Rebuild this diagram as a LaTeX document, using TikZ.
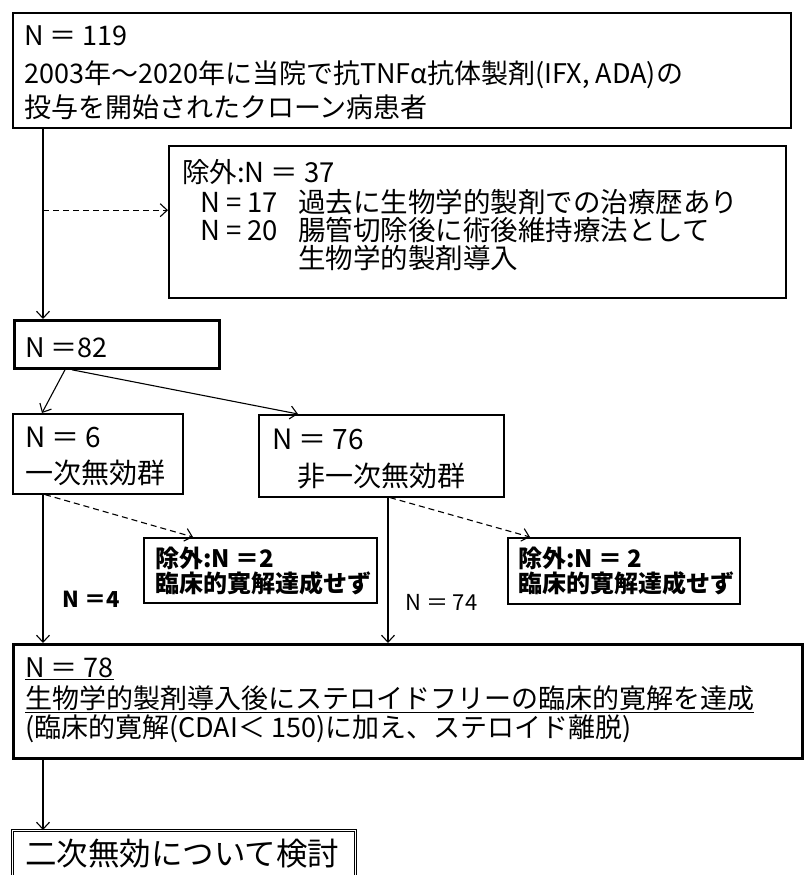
\documentclass[tikz,border=0pt]{standalone}
\usepackage{fontspec}
\setmainfont{Noto Sans CJK JP}
\usetikzlibrary{arrows.meta}
\begin{document}
\begin{tikzpicture}[x=1pt,y=-1pt,
  box/.style={draw, line width=1.6pt, anchor=north west, inner sep=0pt},
  heavybox/.style={box, line width=2.8pt},
  txt/.style={anchor=base west, inner sep=0pt, font=\fontsize{27}{31}\selectfont},
  mtxt/.style={anchor=base west, inner sep=0pt, font=\fontsize{27.5}{31}\selectfont},
  gtxt/.style={anchor=base west, inner sep=0pt, font=\fontsize{28}{32}\selectfont},
  btxt/.style={anchor=base west, inner sep=0pt, font=\fontsize{24}{28}\selectfont\bfseries},
  ltxt/.style={anchor=base west, inner sep=0pt, font=\fontsize{22}{26}\selectfont},
  arr/.style={line width=1.1pt, -{Straight Barb[length=7pt,width=13pt,line width=1.1pt]}},
  darr/.style={arr, dash pattern=on 6pt off 4pt}]
\useasboundingbox (0,0) rectangle (804,875);
\clip (0,0) rectangle (804,875);

% boxes
\node[box, line width=2.2pt, minimum width=778pt, minimum height=115pt] (b1) at (12,12) {};
\node[box, minimum width=617pt, minimum height=152pt] (b2) at (168,145) {};
\node[heavybox, minimum width=205pt, minimum height=48pt] (n82) at (13,319) {};
\node[box, minimum width=170pt, minimum height=80pt] (n6) at (12,413) {};
\node[box, minimum width=245pt, minimum height=82pt] (n76) at (258,414) {};
\node[box, minimum width=233pt, minimum height=65pt] (ex1) at (143,537) {};
\node[box, minimum width=232pt, minimum height=66pt] (ex2) at (507,537) {};
\node[heavybox, minimum width=789pt, minimum height=114pt] (n78) at (12,643) {};
\node[box, double, double distance=1.4pt, line width=1pt, minimum width=343pt, minimum height=70pt] (fin) at (12,830) {};

% texts
\node[txt] (t1a) at (24,46) {N ＝ 119};
\node[txt] (t1b) at (24,83) {2003年～2020年に当院で抗TNFα抗体製剤(IFX, ADA)の};
\node[txt] (t1c) at (24,117) {投与を開始されたクローン病患者};

\node[mtxt] (t2a) at (182,182) {除外:N ＝ 37};
\node[mtxt] (t2b) at (200,212) {N = 17};
\node[mtxt] (t2c) at (298,212) {過去に生物学的製剤での治療歴あり};
\node[mtxt] (t2d) at (200,240) {N = 20};
\node[mtxt] (t2e) at (298,240) {腸管切除後に術後維持療法として};
\node[mtxt] (t2f) at (298,268) {生物学的製剤導入};

\node[txt] (t82) at (25,357) {N ＝82};

\node[gtxt] (t6a) at (25,447) {N ＝ 6};
\node[gtxt] (t6b) at (25,483) {一次無効群};

\node[gtxt] (t76a) at (272,449) {N ＝ 76};
\node[gtxt] (t76b) at (297,486) {非一次無効群};

\node[btxt] (te1a) at (155,567) {除外:N ＝2};
\node[btxt] (te1b) at (155,592) {臨床的寛解達成せず};
\node[btxt] (te2a) at (518,567) {除外:N ＝ 2};
\node[btxt] (te2b) at (518,592) {臨床的寛解達成せず};

\node[ltxt, font=\fontsize{22}{26}\selectfont\bfseries] (l4) at (62,607) {N ＝4};
\node[ltxt] (l74) at (405,610) {N ＝ 74};

\node[txt] (t78a) at (25,677) {\underline{N ＝ 78}};
\node[txt] (t78b) at (25,708) {\underline{生物学的製剤導入後にステロイドフリーの臨床的寛解を達成}};
\node[txt] (t78c) at (25,737) {(臨床的寛解(CDAI＜ 150)に加え、ステロイド離脱)};

\node[txt, font=\fontsize{31.5}{35}\selectfont] (tfin) at (25,865) {二次無効について検討};

% connectors
\coordinate (p0) at ([xshift=31pt]b1.south west);
\draw[arr] (p0) -- (p0 |- n82.north);
\coordinate (d0) at ([yshift=-81pt]p0);
\draw[darr] (d0) -- (d0 -| b2.west);

\draw[arr] ([xshift=52pt]n82.south west) -- ([xshift=30pt]n6.north west);
\draw[arr] ([xshift=59pt]n82.south west) -- ([xshift=40pt]n76.north west);

\draw[darr] ([xshift=33pt]n6.south west) -- ([xshift=50pt]ex1.north west);
\draw[darr] ([xshift=132pt]n76.south west) -- ([xshift=23pt]ex2.north west);

\coordinate (p1) at ([xshift=31pt]n6.south west);
\draw[arr] (p1) -- (p1 |- n78.north);
\coordinate (p2) at ([xshift=130pt]n76.south west);
\draw[arr] (p2) -- (p2 |- n78.north);
\coordinate (p3) at ([xshift=31pt]n78.south west);
\draw[arr] (p3) -- (p3 |- fin.north);
\end{tikzpicture}
\end{document}
